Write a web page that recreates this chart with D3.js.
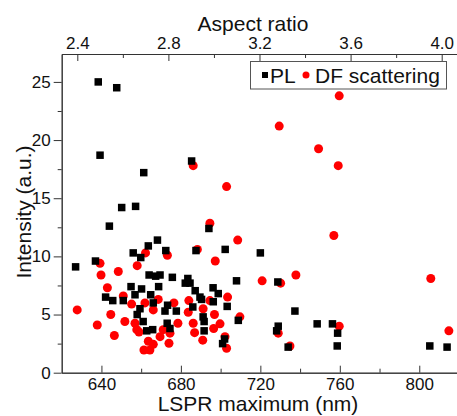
<!DOCTYPE html>
<html>
<head>
<meta charset="utf-8">
<script src="https://cdn.jsdelivr.net/npm/d3@7"></script>
<style>
  body { margin: 0; background: #fff; }
  svg { display: block; font-family: "Liberation Sans", Arial, sans-serif; }
</style>
</head>
<body>
<svg id="chart"></svg>
<script>
// PL (black squares)
const plLspr = [638.4, 647.7, 639.3, 661.3, 650.2, 657.2, 644.0, 627.0, 637.0, 656.0,
  659.8, 663.6, 668.2, 672.4, 687.6, 702.3, 694.1, 685.4, 720.0, 654.9,
  660.2, 642.1, 645.7, 651.0, 656.9, 659.4, 658.0, 664.0, 661.0, 662.8,
  664.8, 667.3, 669.5, 675.7, 683.5, 684.6, 682.2, 687.2, 689.6, 690.4,
  696.2, 698.8, 696.3, 668.8, 666.1, 672.0, 673.3, 677.7, 686.0, 691.2,
  691.7, 691.7, 673.1, 674.5, 665.8, 701.0, 702.0, 703.3, 708.0, 708.9,
  728.8, 729.0, 728.2, 737.4, 734.0, 748.6, 756.3, 758.9, 758.7, 805.3, 814.0];
const plIntensity = [25.0, 24.5, 18.7, 17.2, 14.2, 14.3, 12.6, 9.1, 9.6, 10.3,
  9.9, 10.9, 11.4, 10.5, 10.5, 10.6, 12.4, 18.2, 10.3, 7.4,
  7.2, 6.5, 6.2, 6.2, 6.7, 5.5, 5.0, 8.4, 4.4, 3.6,
  6.7, 8.3, 8.4, 8.2, 8.1, 7.7, 7.7, 7.05, 6.5, 6.3,
  7.3, 6.8, 6.1, 7.4, 6.0, 5.3, 5.8, 5.3, 5.65, 4.8,
  4.4, 3.6, 4.25, 3.8, 3.7, 2.5, 2.9, 5.7, 7.9, 4.5,
  7.8, 4.0, 3.6, 5.3, 2.2, 4.2, 4.2, 3.4, 2.3, 2.3, 2.2];

// DF scattering (red circles)
const dfLspr = [627.8, 639.3, 639.8, 648.5, 643.0, 658.0, 662.2, 651.0, 655.2, 644.7,
  637.9, 651.8, 646.5, 656.9, 657.8, 658.9, 661.9, 663.6, 661.4, 664.4,
  666.1, 673.2, 694.6, 688.3, 697.3, 703.5, 668.6, 676.5, 684.0, 694.6,
  683.7, 696.9, 691.2, 678.5, 686.2, 699.7, 686.9, 696.5, 671.1, 669.5,
  674.0, 691.0, 666.1, 703.0, 702.2, 708.6, 720.9, 730.2, 737.9, 709.7,
  729.0, 734.9, 729.5, 749.3, 686.2, 703.0, 759.7, 759.2, 757.0, 805.8,
  814.9, 759.7, 674.5];
const dfIntensity = [5.4, 9.4, 8.4, 8.7, 7.3, 9.2, 10.3, 6.6, 5.9, 5.0,
  4.1, 4.4, 3.2, 4.25, 3.7, 3.5, 6.0, 2.7, 1.95, 1.95,
  5.4, 10.1, 12.85, 10.6, 9.6, 6.5, 6.3, 6.0, 6.2, 6.2,
  5.2, 5.0, 5.5, 4.25, 4.25, 4.2, 3.44, 3.8, 3.7, 3.1,
  2.53, 2.8, 2.44, 2.1, 3.1, 11.4, 7.9, 7.7, 8.4, 4.8,
  3.4, 2.3, 21.2, 19.25, 17.8, 16.0, 23.8, 17.8, 11.8, 8.1,
  3.6, 4.0, 3.4];

// ticks
const xTicks = [640, 680, 720, 760, 800];
const xMinor = [660, 700, 740, 780];
const yTicks = [0, 5, 10, 15, 20, 25];
const yMinor = [2.5, 7.5, 12.5, 17.5, 22.5];
const arTicks = [2.4, 2.8, 3.2, 3.6, 4.0];
const arMinor = [2.6, 3.0, 3.4, 3.8];
const seriesNames = ["PL", "DF scattering"];

const W = 457, H = 416;
const mLeft = 61.7, mRight = 459, mTop = 54, mBottom = 372.7;

const svg = d3.select("#chart").attr("width", W).attr("height", H);

const x = d3.scaleLinear().domain([620, 820]).range([mLeft, mRight]);
const xTop = d3.scaleLinear().domain([2.3315, 4.076]).range([mLeft, mRight]);
const y = d3.scaleLinear().domain([0, 27.4]).range([mBottom, mTop]);

const axisColor = "#333";
function styleAxis(g) {
  g.selectAll("path").attr("stroke", axisColor);
  g.selectAll("line").attr("stroke", axisColor);
  g.selectAll("text").attr("fill", "#111").style("font-size", "17px");
  g.attr("font-family", null);
}

// bottom axis
svg.append("g").attr("transform", `translate(0,${mBottom})`)
  .call(d3.axisBottom(x).tickValues(xMinor).tickSizeInner(-4).tickSizeOuter(0).tickFormat(""))
  .call(styleAxis);
svg.append("g").attr("transform", `translate(0,${mBottom})`)
  .call(d3.axisBottom(x).tickValues(xTicks).tickSizeInner(-7).tickSizeOuter(0).tickPadding(5))
  .call(styleAxis);

// top axis
svg.append("g").attr("transform", `translate(0,${mTop})`)
  .call(d3.axisTop(xTop).tickValues(arMinor).tickSizeInner(-4).tickSizeOuter(0).tickFormat(""))
  .call(styleAxis);
svg.append("g").attr("transform", `translate(0,${mTop})`)
  .call(d3.axisTop(xTop).tickValues(arTicks).tickSizeInner(-7).tickSizeOuter(0).tickPadding(5)
    .tickFormat(d3.format(".1f")))
  .call(styleAxis);

// left axis
svg.append("g").attr("transform", `translate(${mLeft},0)`)
  .call(d3.axisLeft(y).tickValues(yMinor).tickSizeInner(4).tickSizeOuter(0).tickFormat(""))
  .call(styleAxis);
svg.append("g").attr("transform", `translate(${mLeft},0)`)
  .call(d3.axisLeft(y).tickValues(yTicks).tickSizeInner(8).tickSizeOuter(0).tickPadding(3))
  .call(styleAxis);

// axis titles
svg.append("text").attr("x", 258).attr("y", 411).attr("text-anchor", "middle")
  .style("font-size", "21px").attr("fill", "#111").text("LSPR maximum (nm)");
svg.append("text").attr("x", 253).attr("y", 31).attr("text-anchor", "middle")
  .style("font-size", "21px").attr("fill", "#111").text("Aspect ratio");
svg.append("text").attr("transform", "translate(31,212) rotate(-90)").attr("text-anchor", "middle")
  .style("font-size", "21px").attr("fill", "#111").text("Intensity (a.u.)");

// points
const df = dfLspr.map((v, i) => [v, dfIntensity[i]]);
const pl = plLspr.map((v, i) => [v, plIntensity[i]]);
const sq = 7.5;

svg.append("g").selectAll("circle").data(df).join("circle")
  .attr("cx", d => x(d[0])).attr("cy", d => y(d[1])).attr("r", 4.5)
  .attr("fill", "#ff0000");

svg.append("g").selectAll("rect").data(pl).join("rect")
  .attr("x", d => x(d[0]) - sq / 2).attr("y", d => y(d[1]) - sq / 2)
  .attr("width", sq).attr("height", sq).attr("fill", "#000");

// legend
const lg = svg.append("g");
lg.append("rect").attr("x", 250.5).attr("y", 61.5).attr("width", 196).attr("height", 27.5)
  .attr("fill", "#fff").attr("stroke", "#555").attr("stroke-width", 1);
lg.append("rect").attr("x", 262).attr("y", 72).attr("width", 6).attr("height", 6).attr("fill", "#000");
lg.append("text").attr("x", 270).attr("y", 82.5).style("font-size", "21px").attr("fill", "#111").text(seriesNames[0]);
lg.append("circle").attr("cx", 306).attr("cy", 75).attr("r", 3.5).attr("fill", "#ff0000");
lg.append("text").attr("x", 315).attr("y", 82.5).style("font-size", "21px").attr("fill", "#111").text(seriesNames[1]);
</script>
</body>
</html>
